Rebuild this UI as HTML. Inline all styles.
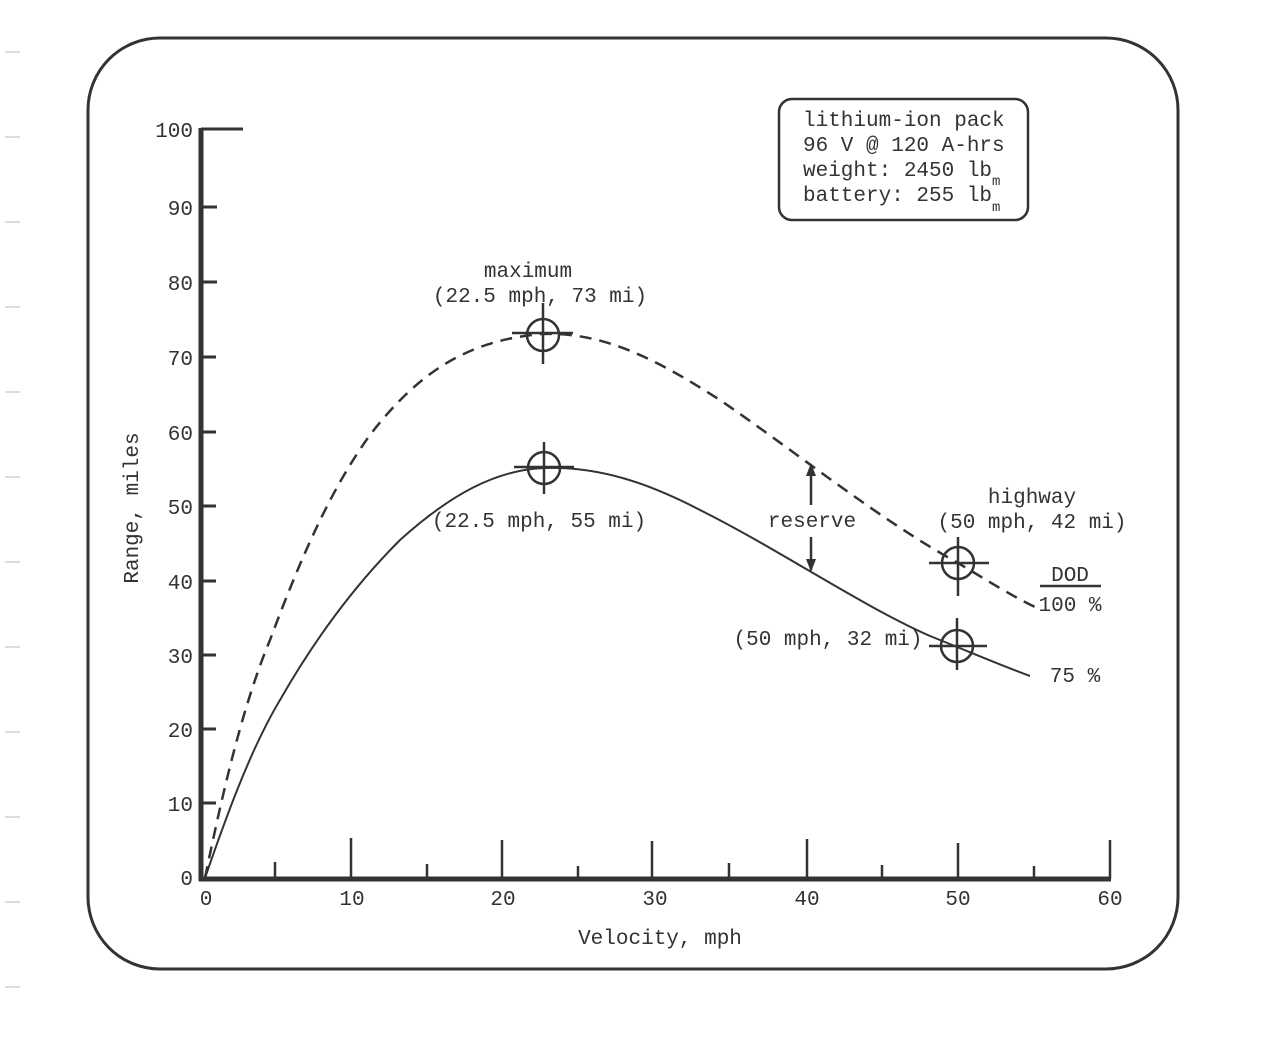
<!DOCTYPE html>
<html><head><meta charset="utf-8"><style>
html,body{margin:0;padding:0;background:#fff;}
svg{display:block;}
text{font-family:"Liberation Mono","DejaVu Sans Mono",monospace;fill:#333;}
</style></head><body>
<svg width="1275" height="1040" viewBox="0 0 1275 1040" xmlns="http://www.w3.org/2000/svg">
<rect x="0" y="0" width="1275" height="1040" fill="#fff"/>
<g stroke="#bbb" stroke-width="1">
<line x1="5" y1="52" x2="20" y2="52"/><line x1="5" y1="137" x2="20" y2="137"/><line x1="5" y1="222" x2="20" y2="222"/><line x1="5" y1="307" x2="20" y2="307"/><line x1="5" y1="392" x2="20" y2="392"/><line x1="5" y1="477" x2="20" y2="477"/><line x1="5" y1="562" x2="20" y2="562"/><line x1="5" y1="647" x2="20" y2="647"/><line x1="5" y1="732" x2="20" y2="732"/><line x1="5" y1="817" x2="20" y2="817"/><line x1="5" y1="902" x2="20" y2="902"/><line x1="5" y1="987" x2="20" y2="987"/>
</g>
<rect x="88" y="38" width="1090" height="931" rx="72" ry="72" fill="none" stroke="#333" stroke-width="3"/>
<rect x="779" y="99" width="249" height="121" rx="13" ry="13" fill="none" stroke="#333" stroke-width="2.5"/>
<g font-size="21">
<text x="803" y="126">lithium-ion pack</text>
<text x="803" y="151">96 V @ 120 A-hrs</text>
<text x="803" y="176">weight: 2450 lb</text>
<text x="992" y="185" font-size="14">m</text>
<text x="803" y="201">battery: 255 lb</text>
<text x="992" y="211" font-size="14">m</text>
</g>
<g stroke="#333" fill="none">
<line x1="201" y1="128" x2="201" y2="881" stroke-width="5"/>
<line x1="199" y1="879" x2="1111" y2="879" stroke-width="5"/>
<line x1="201" y1="129" x2="243" y2="129" stroke-width="3"/>
<g stroke-width="3">
<line x1="201" y1="207" x2="217" y2="207"/><line x1="201" y1="282" x2="217" y2="282"/><line x1="201" y1="357" x2="216" y2="357"/><line x1="201" y1="432" x2="216" y2="432"/><line x1="201" y1="506" x2="216" y2="506"/><line x1="201" y1="581" x2="216" y2="581"/><line x1="201" y1="655" x2="216" y2="655"/><line x1="201" y1="729" x2="216" y2="729"/><line x1="201" y1="803" x2="216" y2="803"/>
</g>
<g stroke-width="2.5">
<line x1="275" y1="879" x2="275" y2="862"/><line x1="351" y1="879" x2="351" y2="838"/><line x1="427" y1="879" x2="427" y2="864"/><line x1="502" y1="879" x2="502" y2="840"/><line x1="578" y1="879" x2="578" y2="866"/><line x1="652" y1="879" x2="652" y2="841"/><line x1="729" y1="879" x2="729" y2="863"/><line x1="807" y1="879" x2="807" y2="839"/><line x1="882" y1="879" x2="882" y2="865"/><line x1="958" y1="879" x2="958" y2="843"/><line x1="1034" y1="879" x2="1034" y2="866"/><line x1="1110" y1="879" x2="1110" y2="840"/>
</g>
</g>
<g font-size="21" text-anchor="end">
<text x="193" y="137">100</text><text x="193" y="215">90</text><text x="193" y="290">80</text><text x="193" y="365">70</text><text x="193" y="440">60</text><text x="193" y="514">50</text><text x="193" y="589">40</text><text x="193" y="663">30</text><text x="193" y="737">20</text><text x="193" y="811">10</text><text x="193" y="885">0</text>
</g>
<g font-size="21" text-anchor="middle">
<text x="206" y="905">0</text><text x="352" y="905">10</text><text x="503" y="905">20</text><text x="655" y="905">30</text><text x="807" y="905">40</text><text x="958" y="905">50</text><text x="1110" y="905">60</text>
<text x="660" y="944">Velocity, mph</text>
</g>
<text x="138" y="508" font-size="21" text-anchor="middle" transform="rotate(-90 138 508)">Range, miles</text>
<path d="M205,878 C225,820 250,750 280,700 C320,630 360,580 400,540 C450,495 495,470 544,468 C600,466 650,484 700,510 C780,550 860,605 930,636 C970,652 1000,665 1030,676" fill="none" stroke="#333" stroke-width="2"/>
<path d="M205,878 C225,780 245,700 270,640 C300,560 330,490 370,435 C420,370 470,340 542,334 C600,332 650,355 720,400 C800,455 880,520 958,563 C990,582 1010,595 1035,607" fill="none" stroke="#333" stroke-width="2.5" stroke-dasharray="12,8"/>
<g fill="none" stroke="#333" stroke-width="2.5">
<circle cx="543" cy="335" r="16"/><line x1="543" y1="303" x2="543" y2="364"/><line x1="512" y1="333" x2="573" y2="333"/>
<circle cx="544" cy="468" r="16"/><line x1="544" y1="442" x2="544" y2="494"/><line x1="514" y1="467" x2="574" y2="467"/>
<circle cx="958" cy="563" r="16"/><line x1="958" y1="537" x2="958" y2="596"/><line x1="929" y1="563" x2="989" y2="563"/>
<circle cx="957" cy="646" r="16"/><line x1="957" y1="618" x2="957" y2="670"/><line x1="929" y1="646" x2="987" y2="646"/>
<line x1="811" y1="467" x2="811" y2="505"/><line x1="811" y1="537" x2="811" y2="570"/>
<line x1="1040" y1="586" x2="1101" y2="586"/>
</g>
<path d="M811,463 L806,476 L816,476 Z" fill="#333"/>
<path d="M811,572 L806,559 L816,559 Z" fill="#333"/>
<g font-size="21" text-anchor="middle">
<text x="528" y="277">maximum</text>
<text x="540" y="302">(22.5 mph, 73 mi)</text>
<text x="539" y="527">(22.5 mph, 55 mi)</text>
<text x="812" y="527">reserve</text>
<text x="1032" y="503">highway</text>
<text x="1032" y="528">(50 mph, 42 mi)</text>
<text x="828" y="645">(50 mph, 32 mi)</text>
<text x="1070" y="581">DOD</text>
<text x="1070" y="611">100 %</text>
<text x="1075" y="682">75 %</text>
</g>
</svg>
</body></html>
